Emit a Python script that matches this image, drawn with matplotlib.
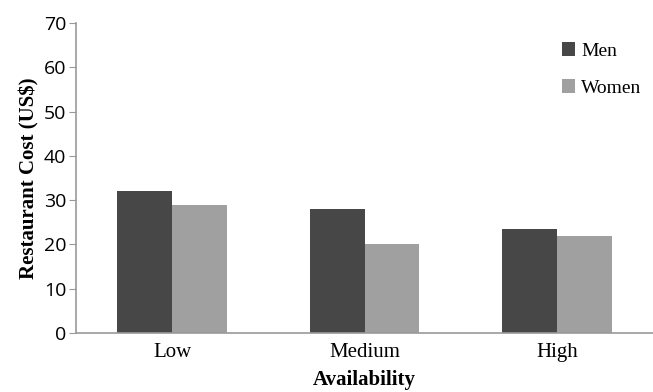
import numpy as np
import matplotlib.pyplot as plt

categories = ["Low", "Medium", "High"]
men = [32.0, 28.0, 23.5]
women = [29.0, 20.0, 22.0]
yticks = [0, 10, 20, 30, 40, 50, 60, 70]

plt.rcParams["font.family"] = ["Liberation Serif", "DejaVu Serif"]

fig = plt.figure(figsize=(6.53, 3.92), dpi=100)
ax = fig.add_axes([0.1164, 0.1505, 0.8836, 0.7905])

x = np.arange(len(categories))
w = 0.285
ax.bar(x - w / 2, men, width=w, color="#474747", label="Men")
ax.bar(x + w / 2, women, width=w, color="#a0a0a0", label="Women")

ax.set_xlim(-0.5, 2.5)
ax.set_ylim(0, 70)
ax.set_yticks(yticks)
ax.set_yticklabels([str(t) for t in yticks], family=["Open Sans", "DejaVu Sans"], fontsize=14)
ax.set_xticks(x)
ax.set_xticklabels(categories, fontsize=15)

for s in ["top", "right"]:
    ax.spines[s].set_visible(False)
for s in ["left", "bottom"]:
    ax.spines[s].set_color("#999999")
    ax.spines[s].set_linewidth(1.2)
ax.tick_params(axis="y", length=5, color="#999999", pad=2)
ax.tick_params(axis="x", length=0, pad=7)

ax.set_xlabel("Availability", fontsize=15, fontweight="bold", labelpad=6)
ax.set_ylabel("Restaurant Cost (US$)", fontsize=15, fontweight="bold", labelpad=3)

ax.legend(loc="upper right", bbox_to_anchor=(1.01, 0.995), frameon=False, fontsize=14,
          handlelength=0.7, handleheight=0.7, handletextpad=0.3, labelspacing=1.0)

fig.savefig("out.png", dpi=100)
